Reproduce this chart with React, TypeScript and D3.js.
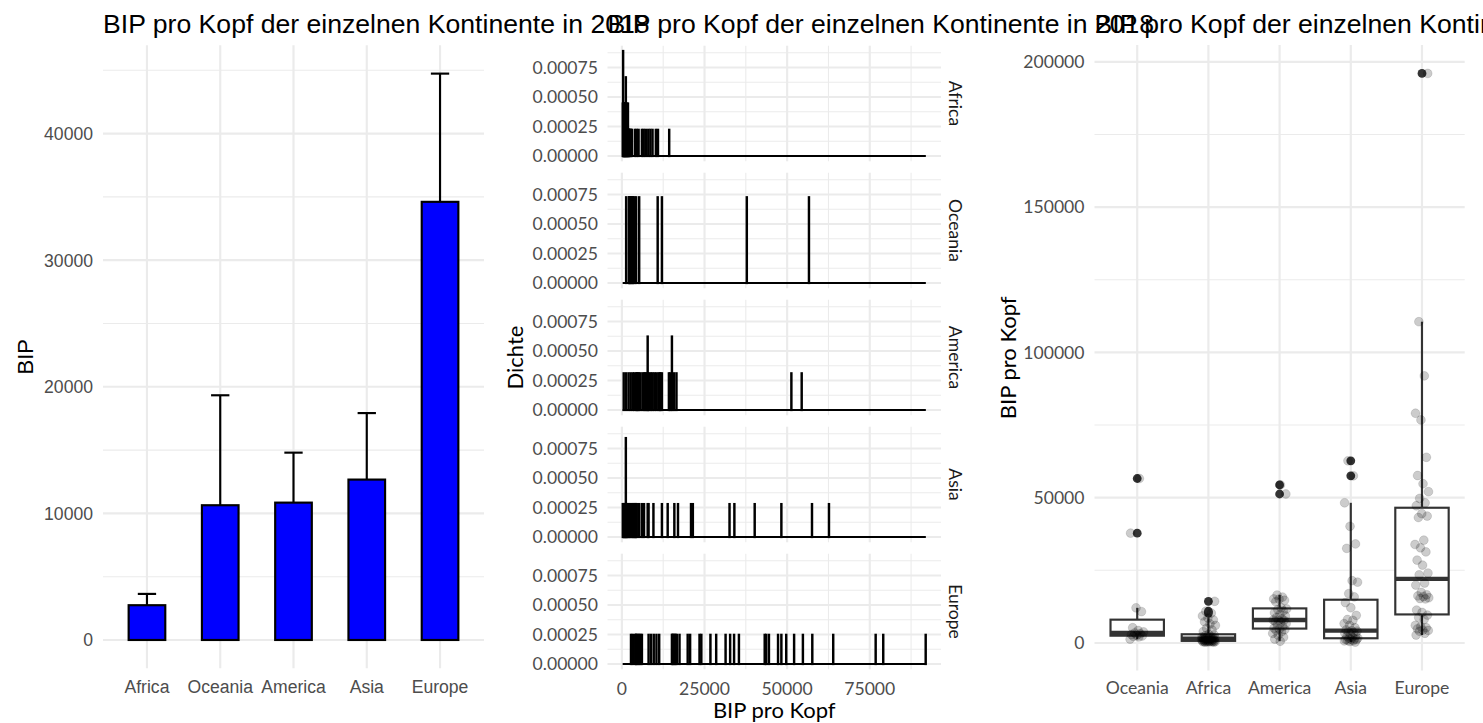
import React from 'react';
import * as d3 from 'd3';

// ---------------- data ----------------
const titleText = 'BIP pro Kopf der einzelnen Kontinente in 2018';

const barContinents = ['Africa', 'Oceania', 'America', 'Asia', 'Europe'];
const barMeans = [2747, 10644, 10850, 12670, 34610];
const barUpper = [3640, 19330, 14798, 17923, 44738];
const barTicks = [0, 10000, 20000, 30000, 40000];

const gdpAfrica = [280, 320, 385, 392, 398, 405, 450, 480, 520, 560, 610, 680, 720, 780, 820, 880, 950, 1020, 1100, 1190, 1196, 1202, 1280, 1350, 1450, 1520, 1600, 1700, 1800, 1806, 1950, 2000, 2100, 2200, 2500, 2800, 3000, 3935, 4500, 5046, 6058, 6600, 7272, 7980, 8586, 9294, 10306, 10913, 14350];
const gdpOceania = [1300, 2100, 2250, 2400, 2620, 2900, 3200, 3440, 3800, 4300, 5250, 10800, 12100, 37800, 56600];
const gdpAmerica = [600, 1300, 2000, 2700, 3300, 3800, 4300, 4600, 4800, 5100, 5600, 6200, 6700, 7100, 7400, 7790, 7800, 7900, 8300, 8800, 9300, 9800, 10400, 11000, 11500, 11700, 12100, 14200, 14700, 15100, 15150, 15800, 16500, 51270, 54400];
const gdpAsia = [300, 500, 700, 800, 900, 1180, 1200, 1220, 1400, 1550, 1700, 2000, 2300, 2600, 3000, 3300, 3600, 3900, 4100, 4250, 4500, 5250, 6060, 6670, 7780, 8080, 9500, 12130, 13900, 15870, 17000, 20930, 21440, 32560, 34080, 40150, 48240, 57540, 62700];
const gdpEurope = [2720, 3340, 4040, 4300, 4440, 4850, 5250, 5600, 6060, 8080, 8790, 9600, 10500, 11320, 15160, 15300, 15570, 15970, 16200, 16580, 17390, 19920, 20630, 23450, 24060, 26790, 28510, 31340, 32760, 33900, 35390, 43180, 43680, 44490, 47220, 48230, 49750, 52070, 54800, 57630, 63900, 76750, 79060, 91920, 110560, 196000];

const facetContinents = ['Africa', 'Oceania', 'America', 'Asia', 'Europe'];
const boxContinents = ['Oceania', 'Africa', 'America', 'Asia', 'Europe'];
const densityTicks = [0, 0.00025, 0.0005, 0.00075];
const histTicks = [0, 25000, 50000, 75000];
const boxTicks = [0, 50000, 100000, 150000, 200000];
const histLimit = 100000;
const histBins = 1000;
const whiskerCoef = 3;

const gdpBy: Record<string, number[]> = {
  Africa: gdpAfrica,
  Oceania: gdpOceania,
  America: gdpAmerica,
  Asia: gdpAsia,
  Europe: gdpEurope,
};

// ---------------- style ----------------
const W = 1483;
const H = 723;
const GRID = '#EBEBEB';
const AXIS_TXT = '#4D4D4D';
const SANS = '"Liberation Sans", Arial, sans-serif';
const LATO = 'Lato, "Liberation Sans", sans-serif';
const TXT = 17.6;
const TTL = 22;
const TITLE = 26.6;
const TITLE_Y = 32.5;
const LW = 2.15;

const L = { x0: 103, x1: 484, y0: 45.3, y1: 668.3 };
const M = { x0: 607.5, x1: 941, top: 45.7, ph: 115.6, gap: 11.4 };
const R = { x0: 1094.5, x1: 1464.7, y0: 45, y1: 670.6 };

function minorTicks(major: number[], dom: number[]) {
  const step = major[1] - major[0];
  const out: number[] = [];
  for (let v = major[0] - step / 2; v <= dom[1]; v += step) if (v >= dom[0]) out.push(v);
  return out;
}

function jit(i: number, k: number) {
  const t = (i * 0.6180339887 + k * 0.2719) % 1;
  return t * 2 - 1;
}

function LeftPlot() {
  const x = d3.scalePoint<string>().domain(barContinents).range([L.x0, L.x1]).padding(0.6);
  const mx = d3.max(barUpper)!;
  const dom = [-mx * 0.05, mx * 1.05];
  const y = d3.scaleLinear().domain(dom).range([L.y1, L.y0]);
  const step = x.step();
  const bw = step * 0.5;
  const cw = step * 0.25;
  const minor = minorTicks(barTicks, dom);
  return (
    <g>
      {minor.map((t) => (
        <line key={'m' + t} x1={L.x0} x2={L.x1} y1={y(t)} y2={y(t)} stroke={GRID} strokeWidth={LW / 2} />
      ))}
      {barTicks.map((t) => (
        <line key={'g' + t} x1={L.x0} x2={L.x1} y1={y(t)} y2={y(t)} stroke={GRID} strokeWidth={LW} />
      ))}
      {barContinents.map((c) => (
        <line key={'v' + c} x1={x(c)} x2={x(c)} y1={L.y0} y2={L.y1} stroke={GRID} strokeWidth={LW} />
      ))}
      {barContinents.map((c, i) => (
        <g key={'b' + c}>
          <line x1={x(c)} x2={x(c)} y1={y(barMeans[i])} y2={y(barUpper[i])} stroke="#000" strokeWidth={LW} />
          <line x1={x(c)! - cw / 2} x2={x(c)! + cw / 2} y1={y(barUpper[i])} y2={y(barUpper[i])} stroke="#000" strokeWidth={LW} />
          <rect x={x(c)! - bw / 2} width={bw} y={y(barMeans[i])} height={y(0) - y(barMeans[i])} fill="#0000FF" stroke="#000" strokeWidth={LW} />
        </g>
      ))}
      {barTicks.map((t) => (
        <text key={'yt' + t} x={L.x0 - 10} y={y(t)} dy="0.36em" textAnchor="end" fontFamily={SANS} fontSize={TXT} fill={AXIS_TXT}>{t}</text>
      ))}
      {barContinents.map((c) => (
        <text key={'xt' + c} x={x(c)} y={692.5} textAnchor="middle" fontFamily={SANS} fontSize={TXT} fill={AXIS_TXT}>{c}</text>
      ))}
      <text transform={`translate(33,${(L.y0 + L.y1) / 2}) rotate(-90)`} textAnchor="middle" fontFamily={SANS} fontSize={TTL} fill="#000">BIP</text>
      <text x={L.x0} y={TITLE_Y} fontFamily={SANS} fontSize={TITLE} fill="#000">{titleText}</text>
    </g>
  );
}

function MiddlePlot() {
  const data = facetContinents.map((c) => gdpBy[c].filter((v) => v <= histLimit));
  const pooled = data.flat();
  const mn = d3.min(pooled)!;
  const mxv = d3.max(pooled)!;
  const bw = (mxv - mn) / (histBins - 1);
  const start = mn - bw / 2;
  const end = start + bw * histBins;
  const facets = data.map((vals) => {
    const counts = new Map<number, number>();
    vals.forEach((v) => {
      const k = Math.min(histBins - 1, Math.floor((v - start) / bw));
      counts.set(k, (counts.get(k) || 0) + 1);
    });
    return Array.from(counts.entries()).map(([k, n]) => ({ x0: start + k * bw, x1: start + (k + 1) * bw, d: n / (vals.length * bw) }));
  });
  const maxD = d3.max(facets.flat(), (b) => b.d)!;
  const xr = end - start;
  const xdom = [start - xr * 0.05, end + xr * 0.05];
  const x = d3.scaleLinear().domain(xdom).range([M.x0, M.x1]);
  const ydom = [-maxD * 0.05, maxD * 1.05];
  const xMinor = minorTicks(histTicks, xdom);
  const yMinor = minorTicks(densityTicks, ydom);
  const lastBottom = M.top + 4 * (M.ph + M.gap) + M.ph;
  return (
    <g>
      {facetContinents.map((c, fi) => {
        const top = M.top + fi * (M.ph + M.gap);
        const y = d3.scaleLinear().domain(ydom).range([top + M.ph, top]);
        return (
          <g key={c}>
            {yMinor.map((t) => (
              <line key={'ym' + t} x1={M.x0} x2={M.x1} y1={y(t)} y2={y(t)} stroke={GRID} strokeWidth={LW / 2} />
            ))}
            {xMinor.map((t) => (
              <line key={'xm' + t} x1={x(t)} x2={x(t)} y1={top} y2={top + M.ph} stroke={GRID} strokeWidth={LW / 2} />
            ))}
            {densityTicks.map((t) => (
              <line key={'yg' + t} x1={M.x0} x2={M.x1} y1={y(t)} y2={y(t)} stroke={GRID} strokeWidth={LW} />
            ))}
            {histTicks.map((t) => (
              <line key={'xg' + t} x1={x(t)} x2={x(t)} y1={top} y2={top + M.ph} stroke={GRID} strokeWidth={LW} />
            ))}
            <line x1={x(start)} x2={x(end)} y1={y(0)} y2={y(0)} stroke="#000" strokeWidth={LW} />
            {facets[fi].map((b, i) => (
              <rect key={i} x={x(b.x0)} width={x(b.x1) - x(b.x0)} y={y(b.d)} height={y(0) - y(b.d)} fill="#000" stroke="#000" strokeWidth={LW} />
            ))}
            {densityTicks.map((t) => (
              <text key={'yt' + t} x={M.x0 - 9.5} y={y(t)} dy="0.36em" textAnchor="end" fontFamily={LATO} fontSize={TXT} fill={AXIS_TXT}>{t.toFixed(5)}</text>
            ))}
            <text transform={`translate(955,${top + M.ph / 2}) rotate(90)`} dy="0.35em" textAnchor="middle" fontFamily={LATO} fontSize={TXT} fill="#1A1A1A">{c}</text>
          </g>
        );
      })}
      {histTicks.map((t) => (
        <text key={'xt' + t} x={x(t)} y={695} textAnchor="middle" fontFamily={LATO} fontSize={TXT} fill={AXIS_TXT}>{t}</text>
      ))}
      <text x={(M.x0 + M.x1) / 2} y={718} textAnchor="middle" fontFamily={LATO} fontSize={TTL} fill="#000">BIP pro Kopf</text>
      <text transform={`translate(523,${(M.top + lastBottom) / 2}) rotate(-90)`} textAnchor="middle" fontFamily={LATO} fontSize={TTL} fill="#000">Dichte</text>
      <text x={M.x0} y={TITLE_Y} fontFamily={SANS} fontSize={TITLE} fill="#000">{titleText}</text>
    </g>
  );
}

function boxStats(vals: number[]) {
  const s = [...vals].sort(d3.ascending);
  const q1 = d3.quantileSorted(s, 0.25)!;
  const med = d3.quantileSorted(s, 0.5)!;
  const q3 = d3.quantileSorted(s, 0.75)!;
  const iqr = q3 - q1;
  const lo = q1 - whiskerCoef * iqr;
  const hi = q3 + whiskerCoef * iqr;
  const inside = s.filter((v) => v >= lo && v <= hi);
  return { q1, med, q3, wLo: d3.min(inside)!, wHi: d3.max(inside)!, out: s.filter((v) => v < lo || v > hi) };
}

function RightPlot() {
  const x = d3.scalePoint<string>().domain(boxContinents).range([R.x0, R.x1]).padding(0.6);
  const all = boxContinents.flatMap((c) => gdpBy[c]);
  const mn = d3.min(all)!;
  const mx = d3.max(all)!;
  const r = mx - mn;
  const dom = [mn - r * 0.05, mx + r * 0.05];
  const y = d3.scaleLinear().domain(dom).range([R.y1, R.y0]);
  const step = x.step();
  const bw = step * 0.75;
  const minor = minorTicks(boxTicks, dom);
  return (
    <g>
      {minor.map((t) => (
        <line key={'m' + t} x1={R.x0} x2={R.x1} y1={y(t)} y2={y(t)} stroke={GRID} strokeWidth={LW / 2} />
      ))}
      {boxTicks.map((t) => (
        <line key={'g' + t} x1={R.x0} x2={R.x1} y1={y(t)} y2={y(t)} stroke={GRID} strokeWidth={LW} />
      ))}
      {boxContinents.map((c) => (
        <line key={'v' + c} x1={x(c)} x2={x(c)} y1={R.y0} y2={R.y1} stroke={GRID} strokeWidth={LW} />
      ))}
      {boxContinents.map((c) => {
        const st = boxStats(gdpBy[c]);
        const cx = x(c)!;
        return (
          <g key={'box' + c}>
            <line x1={cx} x2={cx} y1={y(st.q3)} y2={y(st.wHi)} stroke="#333333" strokeWidth={LW} />
            <line x1={cx} x2={cx} y1={y(st.q1)} y2={y(st.wLo)} stroke="#333333" strokeWidth={LW} />
            <rect x={cx - bw / 2} width={bw} y={y(st.q3)} height={y(st.q1) - y(st.q3)} fill="#fff" stroke="#333333" strokeWidth={LW} />
            <line x1={cx - bw / 2} x2={cx + bw / 2} y1={y(st.med)} y2={y(st.med)} stroke="#333333" strokeWidth={LW * 2} />
            {st.out.map((v, i) => (
              <circle key={i} cx={cx} cy={y(v)} r={4.4} fill="#333333" />
            ))}
          </g>
        );
      })}
      {boxContinents.map((c, k) =>
        gdpBy[c].map((v, i) => (
          <circle key={c + i} cx={x(c)! + jit(i, k) * step * 0.1} cy={y(v)} r={4.4} fill="rgba(0,0,0,0.2)" stroke="rgba(0,0,0,0.15)" strokeWidth={0.8} />
        ))
      )}
      {boxTicks.map((t) => (
        <text key={'yt' + t} x={R.x0 - 10} y={y(t)} dy="0.36em" textAnchor="end" fontFamily={LATO} fontSize={TXT} fill={AXIS_TXT}>{t}</text>
      ))}
      {boxContinents.map((c) => (
        <text key={'xt' + c} x={x(c)} y={694} textAnchor="middle" fontFamily={LATO} fontSize={TXT} fill={AXIS_TXT}>{c}</text>
      ))}
      <text transform={`translate(1016,${(R.y0 + R.y1) / 2}) rotate(-90)`} textAnchor="middle" fontFamily={LATO} fontSize={TTL} fill="#000">BIP pro Kopf</text>
      <text x={R.x0} y={TITLE_Y} fontFamily={SANS} fontSize={TITLE} fill="#000">{titleText}</text>
    </g>
  );
}

export default function App() {
  return (
    <div style={{ position: 'absolute', left: 0, top: 0 }}>
      <svg width={W} height={H} style={{ display: 'block', background: '#fff' }}>
        <rect width={W} height={H} fill="#fff" />
        <LeftPlot />
        <MiddlePlot />
        <RightPlot />
      </svg>
    </div>
  );
}
